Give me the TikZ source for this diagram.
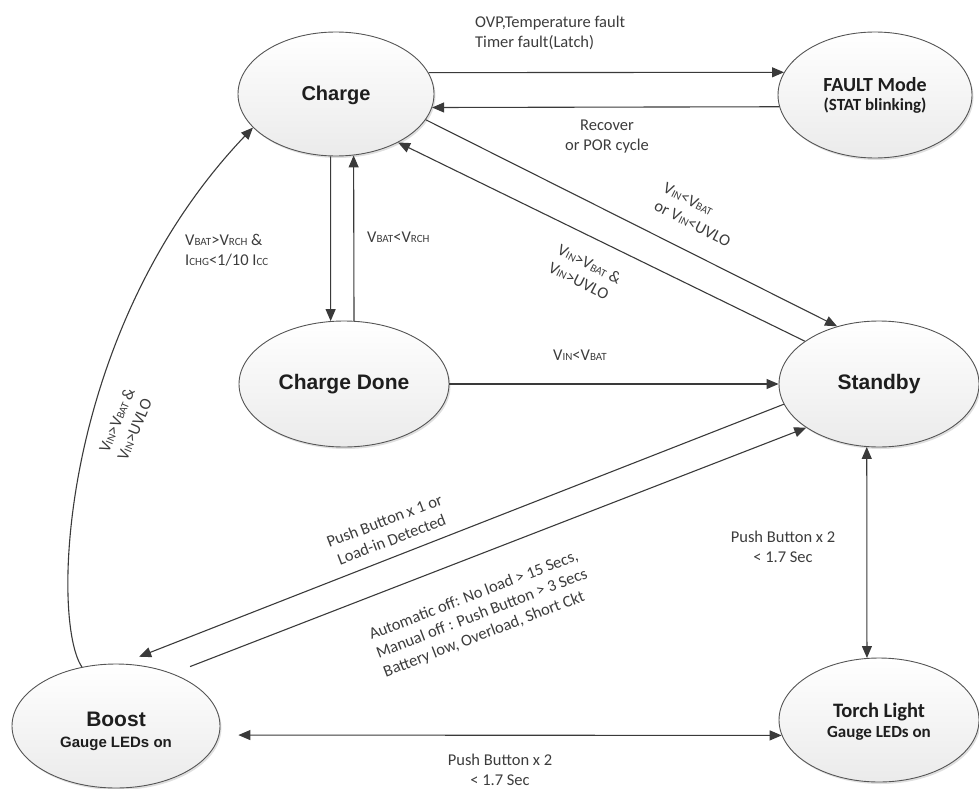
\documentclass[tikz,border=0pt]{standalone}
\usepackage{fontspec}
\setmainfont{Carlito}
\newfontfamily\arialfont{Liberation Sans}
\usetikzlibrary{shapes.geometric,arrows.meta,shadows}
\definecolor{linec}{HTML}{3A3A3A}
\definecolor{labc}{HTML}{3C3C3C}
\definecolor{bordc}{HTML}{555555}
\definecolor{nodetc}{HTML}{1E1E1E}
\newcommand{\sbs}[1]{{\fontsize{11}{11}\selectfont #1}}
\newcommand{\lbf}{\fontsize{16.5}{20}\selectfont}
\begin{document}
\begin{tikzpicture}[x=1pt,y=-1pt,
  state/.style={ellipse, draw=bordc, line width=0.9pt, top color=white, bottom color=black!8,
    inner sep=0pt, align=center, text=nodetc,
    drop shadow={shadow xshift=1.5pt, shadow yshift=-2pt, opacity=0.25, fill=black!50}},
  conn/.style={draw=linec, line width=1.1pt, -{Triangle[length=12pt,width=10pt]}},
  dconn/.style={draw=linec, line width=1.1pt, {Triangle[length=12pt,width=10pt]}-{Triangle[length=12pt,width=10pt]}},
  lab/.style={text=labc, font=\lbf, inner sep=0pt}]
\useasboundingbox (0,0) rectangle (979,789);

% states
\node[state, minimum width=196pt, minimum height=124pt,
  font=\arialfont\bfseries\fontsize{20}{22}\selectfont] (charge) at (336,94) {\rule{0pt}{17pt}Charge};
\node[state, minimum width=194pt, minimum height=126pt,
  font=\bfseries\fontsize{17}{19}\selectfont] (fault) at (875,95)
  {{\fontsize{20}{19}\selectfont FAULT Mode}\\(STAT blinking)};
\node[state, minimum width=210pt, minimum height=126pt,
  font=\arialfont\bfseries\fontsize{21}{22}\selectfont] (done) at (344,384) {Charge Done};
\node[state, minimum width=200pt, minimum height=126pt,
  font=\arialfont\bfseries\fontsize{21}{22}\selectfont] (standby) at (879,384) {Standby};
\node[state, minimum width=200pt, minimum height=124pt,
  font=\bfseries\fontsize{17}{20}\selectfont] (torch) at (879,720)
  {{\fontsize{20.5}{20}\selectfont\rule{0pt}{18pt}Torch Light}\\Gauge LEDs on};
\node[state, minimum width=208pt, minimum height=124pt,
  font=\arialfont\bfseries\fontsize{15}{21}\selectfont] (boost) at (116,726)
  {{\fontsize{21}{20}\selectfont\rule{0pt}{25pt}Boost}\\Gauge LEDs on};

% connectors
\draw[conn] (charge.13) -- (fault.166);
\draw[conn] (fault.187) -- (charge.352);
\draw[conn] (charge.265) -- (done.102);
\draw[conn] (done.81) -- (charge.286);
\draw[conn] (done.0) -- (standby.180);
\draw[conn] (charge.344) -- (standby.126);
\draw[conn] (standby.150) -- (charge.322);
\draw[conn] (boost.120) .. controls (50,620) and (60,330) .. (charge.202);
\draw[conn, shorten >=19pt] (standby.192) -- (boost.85);
\draw[conn, shorten <=19pt] (boost.43) -- (standby.211);
\draw[dconn] (standby.259) -- (torch.101);
\draw[dconn, shorten <=19pt] (boost.355) -- (torch.189);

% labels
\node[lab, align=left, anchor=west] (l1) at (475,32.5)
  {OVP,Temperature fault\\Timer fault(Latch)};
\node[lab, align=center] (l2) at (607,137) {Recover\\or POR cycle};
\node[lab, align=left, rotate=-27] (l3) at (697,215)
  {V\sbs{IN}<V\sbs{BAT}\\or V\sbs{IN}<UVLO};
\node[lab, align=left, rotate=-27] (l4) at (585,273)
  {V\sbs{IN}>V\sbs{BAT} \&\\V\sbs{IN}>UVLO};
\node[lab, align=left, anchor=west] (l5) at (185,250)
  {V\sbs{BAT}>V\sbs{RCH} \&\\I\sbs{CHG}<1/10 I\sbs{CC}};
\node[lab, anchor=west] (l6) at (367,237) {V\sbs{BAT}<V\sbs{RCH}};
\node[lab] (l7) at (580,355) {V\sbs{IN}<V\sbs{BAT}};
\node[lab, align=left, rotate=67] (l8) at (126,424)
  {V\sbs{IN}>V\sbs{BAT} \&\\V\sbs{IN}>UVLO};
\node[lab, align=center, rotate=21] (l9) at (388,530)
  {Push Button x 1 or\\Load-in Detected};
\node[lab, align=left, rotate=21] (l10) at (482,614)
  {Automatic off: No load > 15 Secs,\\Manual off : Push Button > 3 Secs\\Battery low, Overload, Short Ckt};
\node[lab, align=center] (l11) at (783,547) {Push Button x 2\\< 1.7 Sec};
\node[lab, align=center] (l12) at (500,770) {Push Button x 2\\< 1.7 Sec};
\end{tikzpicture}
\end{document}
